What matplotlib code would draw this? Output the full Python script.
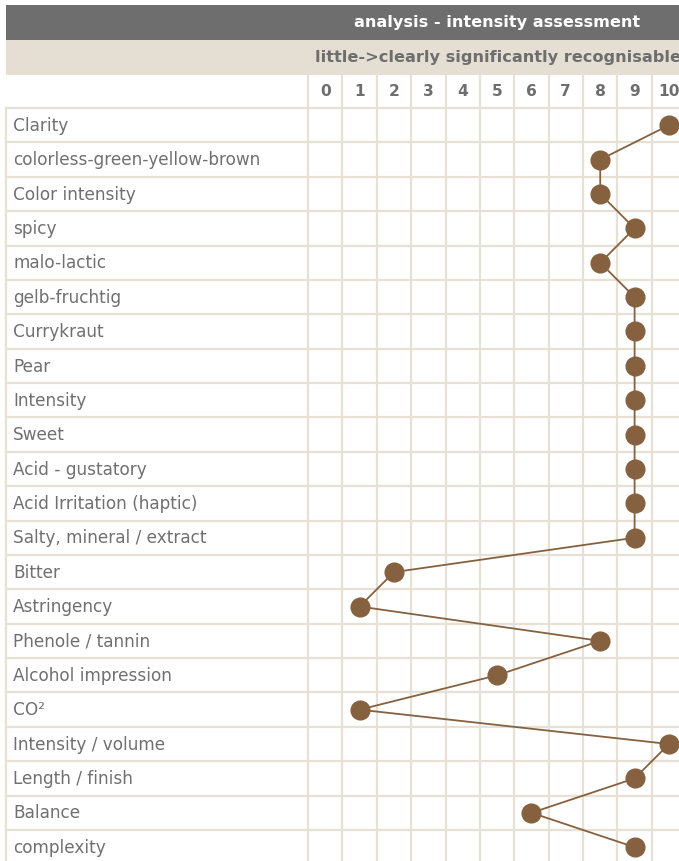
import matplotlib.pyplot as plt
from matplotlib.patches import Rectangle

attributes = ["Clarity", "colorless-green-yellow-brown", "Color intensity", "spicy",
              "malo-lactic", "gelb-fruchtig", "Currykraut", "Pear", "Intensity", "Sweet",
              "Acid - gustatory", "Acid Irritation (haptic)", "Salty, mineral / extract",
              "Bitter", "Astringency", "Phenole / tannin", "Alcohol impression", "CO²",
              "Intensity / volume", "Length / finish", "Balance", "complexity"]
scores = [10, 8, 8, 9, 8, 9, 9, 9, 9, 9, 9, 9, 9, 2, 1, 8, 5, 1, 10, 9, 6, 9]
scale = list(range(0, 11))
title = "analysis - intensity assessment"
subtitle = "little->clearly significantly recognisable"

W, H = 679, 861
cell = 34.38
x0_px = 308          # left edge of column "0"
y0_px = 125.2        # centre of first row

def px_x(p):
    return -0.5 + (p - x0_px) / cell

def px_y(p):
    return (p - y0_px) / cell

grid_col = "#e6e0d5"
dot_col = "#86613f"
text_gray = "#6e6e6e"

fig = plt.figure(figsize=(W / 100, H / 100), dpi=100)
ax = fig.add_axes([0, 0, 1, 1])
ax.set_xlim(px_x(0), px_x(W))
ax.set_ylim(px_y(H), px_y(0))
ax.axis("off")

left = px_x(6)
right = px_x(W + 10)
n = len(attributes)

# header bars
ax.add_patch(Rectangle((left, px_y(5)), right - left, px_y(40) - px_y(5),
                       color="#6e6e6e", lw=0, zorder=1))
ax.add_patch(Rectangle((left, px_y(40)), right - left, px_y(75) - px_y(40),
                       color="#e5ded2", lw=0, zorder=1))
mid = px_x(497)
ax.text(mid, px_y(22.5), title, color="white", fontsize=11.6, fontweight="bold",
        ha="center", va="center", zorder=3)
ax.text(px_x(498), px_y(57.5), subtitle, color=text_gray, fontsize=11.6,
        fontweight="bold", ha="center", va="center", zorder=3)

# column headers
for s in scale:
    ax.text(s, px_y(91.5), str(s), color=text_gray, fontsize=11.2, fontweight="bold",
            ha="center", va="center", zorder=3)

# grid
top_hdr = px_y(75)
bottom = n - 0.5 + 1
for k in range(len(scale) + 1):
    ax.plot([k - 0.5, k - 0.5], [top_hdr, bottom], color=grid_col, lw=1.6, zorder=1)
ax.plot([left, left], [-0.5, bottom], color=grid_col, lw=1.6, zorder=1)
for r in range(n + 1):
    ax.plot([left, right], [r - 0.5, r - 0.5], color=grid_col, lw=1.6, zorder=1)

# row labels
for i, name in enumerate(attributes):
    ax.text(px_x(13), i + 0.02, name, color="#707070", fontsize=12.2, ha="left",
            va="center", zorder=3)

# profile line
rows = list(range(n))
ax.plot(scores, rows, color=dot_col, lw=1.3, marker="o", markersize=13.5,
        markerfacecolor=dot_col, markeredgecolor=dot_col, zorder=4, clip_on=False)

fig.savefig("out.png", dpi=100)
